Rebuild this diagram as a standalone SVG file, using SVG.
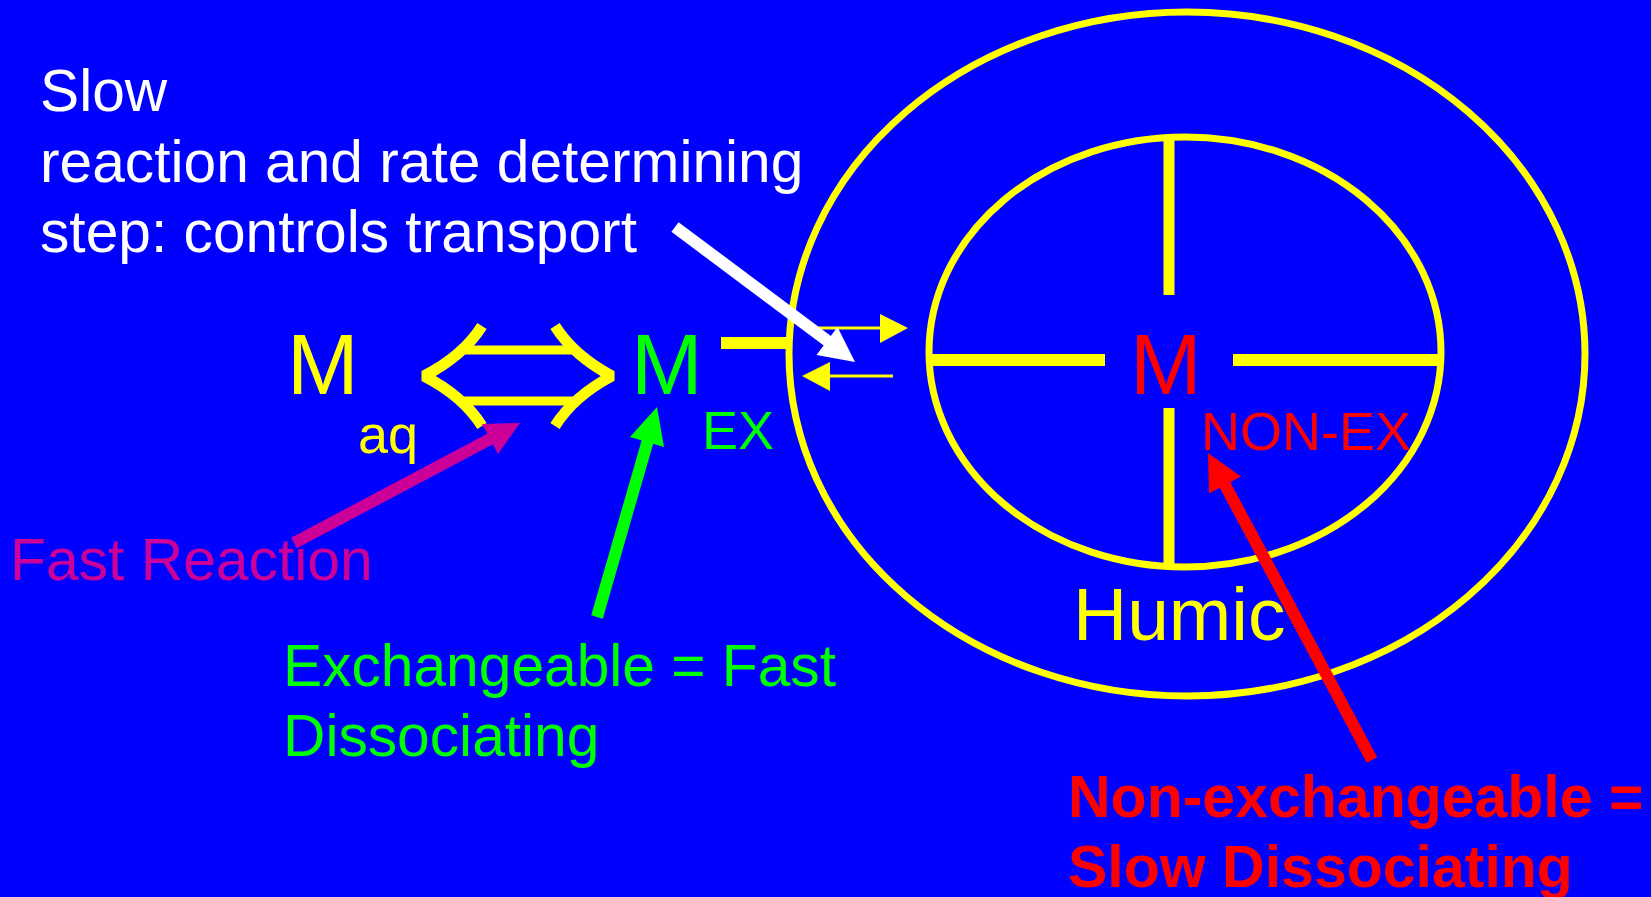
<svg xmlns="http://www.w3.org/2000/svg" width="1651" height="897" viewBox="0 0 1651 897">
<style>
text{font-family:"Liberation Sans",Arial,sans-serif}
.y{fill:#FFFF00}.g{fill:#00FF00}.r{fill:#FF0000}.w{fill:#FFFFFF}.m{fill:#CC0099}
.ys{stroke:#FFFF00;fill:none}
</style>
<rect width="1651" height="897" fill="#0000FF"/>
<g id="humic">
<ellipse cx="1187" cy="354" rx="398" ry="342" class="ys" stroke-width="7"/>
<ellipse cx="1185" cy="352" rx="256" ry="215" class="ys" stroke-width="7"/>
<line x1="1169" y1="136" x2="1169" y2="295" class="ys" stroke-width="11"/>
<line x1="1169" y1="408" x2="1169" y2="565" class="ys" stroke-width="11"/>
<line x1="929" y1="360" x2="1105" y2="360" class="ys" stroke-width="12"/>
<line x1="1233" y1="360" x2="1441" y2="360" class="ys" stroke-width="12"/>
<text x="1073" y="640" font-size="75" class="y">Humic</text>
</g>
<g id="m-nonex">
<text x="1130" y="394" font-size="86" class="r">M</text>
<text x="1201" y="450" font-size="54" class="r">NON-EX</text>
</g>
<g id="m-aq">
<text x="287" y="394" font-size="86" class="y">M</text>
<text x="358" y="453" font-size="54" class="y">aq</text>
</g>
<g id="m-ex">
<text x="631" y="394" font-size="86" class="g">M</text>
<text x="702" y="449" font-size="54" class="g">EX</text>
</g>
<g id="label-slow">
<text x="40" y="111" font-size="58.7" class="w">Slow</text>
<text x="40" y="182" font-size="58.7" class="w">reaction and rate determining</text>
<text x="40" y="252" font-size="58.7" class="w">step: controls transport</text>
</g>
<g id="label-fast">
<text x="10" y="580" font-size="58.8" class="m">Fast Reaction</text>
</g>
<g id="label-exchangeable">
<text x="283" y="686" font-size="58.7" class="g">Exchangeable = Fast</text>
<text x="283" y="756" font-size="58.7" class="g">Dissociating</text>
</g>
<g id="label-nonexchangeable">
<text x="1068" y="817" font-size="59" font-weight="bold" class="r">Non-exchangeable =</text>
<text x="1068" y="887" font-size="59" font-weight="bold" class="r">Slow Dissociating</text>
</g>
<g id="connectors">
<g id="equilibrium" class="ys" stroke-width="11" stroke-linejoin="bevel">
<path d="M482 326 Q463 356 424 376 Q463 396 482 426"/>
<path d="M555 326 Q574 356 612 376 Q574 396 555 426"/>
<line x1="460" y1="350" x2="578" y2="350" stroke-width="9"/>
<line x1="460" y1="401" x2="578" y2="401" stroke-width="9"/>
</g>
<line x1="721" y1="343" x2="789" y2="343" class="ys" stroke-width="12"/>
<g id="exchange-arrows">
<line x1="818" y1="328" x2="882" y2="328" class="ys" stroke-width="3"/>
<polygon points="880,314 908,328 880,343" class="y"/>
<line x1="893" y1="376" x2="828" y2="376" class="ys" stroke-width="3"/>
<polygon points="830,362 802,376 830,391" class="y"/>
</g>
<g id="arrow-slow">
<line x1="675" y1="227" x2="829" y2="342" stroke="#FFFFFF" stroke-width="12"/>
<polygon points="816.5,355 855,362 837.5,327" class="w"/>
</g>
<g id="arrow-fast">
<line x1="294" y1="543" x2="492" y2="438" stroke="#CC0099" stroke-width="12"/>
<polygon points="482,424 520,423 498,454" class="m"/>
</g>
<g id="arrow-ex">
<line x1="597" y1="617" x2="648" y2="440" stroke="#00FF00" stroke-width="12"/>
<polygon points="630,437 657,407 664,447" class="g"/>
</g>
<g id="arrow-nonex">
<line x1="1372" y1="760" x2="1224" y2="483" stroke="#FF0000" stroke-width="12"/>
<polygon points="1209,493.5 1208,453 1241,476.5" class="r"/>
</g>
</g>
</svg>
